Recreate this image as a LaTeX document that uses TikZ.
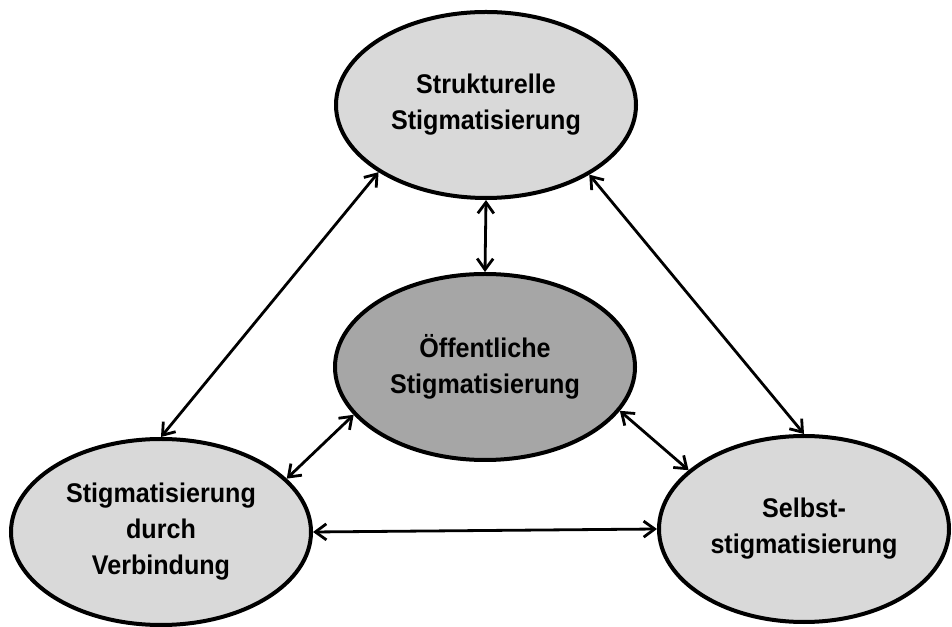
\documentclass[tikz,border=0pt]{standalone}
\usepackage{fontspec}
\setmainfont{Liberation Sans}[FakeStretch=0.93]
\usepackage{xcolor}
\usepackage{tikz}
\usetikzlibrary{arrows.meta,positioning,shapes.geometric}

\definecolor{lightfill}{RGB}{217,217,217}
\definecolor{darkfill}{RGB}{166,166,166}

\begin{document}
\begin{tikzpicture}[x=1pt, y=1pt,
    oval/.style={ellipse, draw, line width=4pt, fill=lightfill,
        minimum width=300pt, minimum height=186pt, inner sep=0pt,
        align=center, font=\bfseries\fontsize{27}{36}\selectfont},
    public/.style={oval, fill=darkfill},
    arr/.style={{Straight Barb[length=11pt, width=16pt]}-{Straight Barb[length=11pt, width=16pt]},
        line width=2.8pt},
]
\useasboundingbox (0,0) rectangle (952,626);

% ── Ovals ──
\node[oval] (struct) at (486,521)
    {Strukturelle\\Stigmatisierung};
\node[public] (public) at (485,259)
    {Öffentliche\\Stigmatisierung};
\node[oval] (assoc) at (161,94)
    {Stigmatisierung\\durch\\Verbindung};
\node[oval, minimum width=290pt] (self) at (804,97)
    {Selbst-\\stigmatisierung};

% ── Arrows ──
\draw[arr] (struct.212) -- (assoc.north);
\draw[arr] (struct.326) -- (self.north);
\draw[arr] (struct.south) -- (public.north);
\draw[arr] (public.200) -- (assoc.23);
\draw[arr] (public.342) -- (self.153);
\draw[arr] (assoc.east) -- (self.west);

\end{tikzpicture}
\end{document}
